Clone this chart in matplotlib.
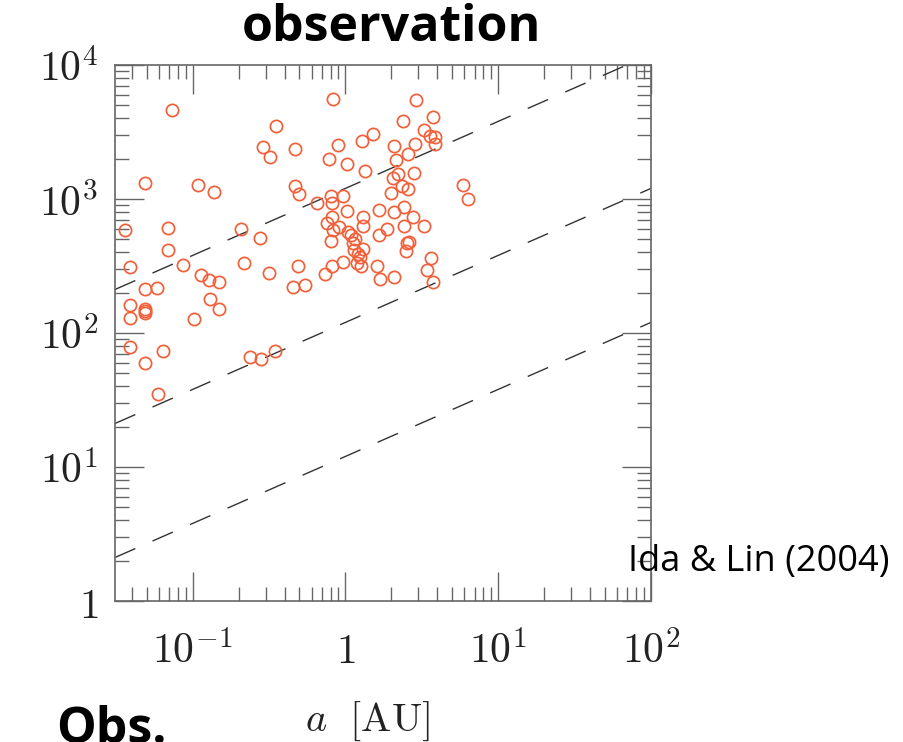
import numpy as np
import matplotlib
matplotlib.use("Agg")
import matplotlib.pyplot as plt
from matplotlib.ticker import LogLocator, FuncFormatter, NullFormatter

plt.rcParams["mathtext.fontset"] = "cm"

# semimajor axis [AU] and mass of observed planets
a_obs = [
    0.073, 0.35, 0.29, 0.32, 0.47, 0.049, 0.108, 0.138, 0.47, 0.50,
    0.036, 0.069, 0.207, 0.276, 0.069, 0.039, 0.086, 0.217, 0.316, 0.486,
    0.113, 0.128, 0.149, 0.049, 0.058, 0.456, 0.54, 0.039, 0.039, 0.049,
    0.049, 0.049, 0.129, 0.149, 0.102, 0.039, 0.064, 0.049, 0.236, 0.282,
    0.346, 0.059, 0.65, 0.83, 0.78, 0.89, 1.03, 1.28, 1.52, 1.34,
    2.07, 2.13, 2.39, 2.04, 1.98, 2.08, 0.81, 0.96, 0.82, 1.02,
    0.82, 1.31, 1.30, 1.65, 0.76, 0.91, 0.83, 1.04, 1.08, 1.15,
    1.12, 0.81, 1.31, 1.14, 1.21, 1.25, 1.19, 1.27, 1.61, 1.68,
    2.08, 1.67, 1.87, 2.88, 3.73, 3.29, 3.59, 3.88, 3.85, 2.86,
    2.57, 2.20, 2.83, 2.35, 2.56, 5.9, 6.3, 2.43, 2.75, 2.43,
    3.29, 2.62, 2.52, 2.48, 3.62, 3.40, 3.74, 0.73, 0.82, 0.97,
]
m_obs = [
    4600, 3500, 2440, 2050, 2360, 1310, 1270, 1130, 1250, 1090,
    585, 606, 600, 509, 413, 311, 324, 331, 282, 316,
    269, 249, 239, 212, 218, 220, 227, 162, 130, 150,
    145, 140, 178, 151, 127, 79, 73, 60, 66.5, 63.6,
    73, 35, 940, 5550, 2000, 2530, 1815, 2720, 3070, 1630,
    2470, 1945, 3850, 1435, 1110, 800, 1050, 1045, 940, 818,
    736, 736, 632, 825, 659, 616, 589, 570, 539, 505,
    469, 489, 424, 413, 392, 369, 331, 316, 316, 254,
    260, 536, 595, 5480, 4060, 3290, 2950, 2920, 2570, 2570,
    2170, 1540, 1550, 1260, 1180, 1280, 1000, 870, 738, 632,
    632, 474, 469, 406, 366, 294, 241, 277, 317, 339,
]

# reference lines M = c * a^(1/2)
line_coeffs = [1200, 120, 12]
line_slope = 0.5

xlim = (0.031, 100)
ylim = (1, 1e4)

fig = plt.figure(figsize=(9.04, 7.42), dpi=100)
ax = fig.add_axes([0.1272, 0.19, 0.5929, 0.7224])

a_line = np.logspace(np.log10(xlim[0]), np.log10(xlim[1]), 200)
for c in line_coeffs:
    ax.plot(a_line, c * a_line ** line_slope, color="#333333", lw=1.0,
            dashes=(16, 13.5))

ax.plot(a_obs, m_obs, linestyle="none", marker="o", ms=8.8,
        mfc="none", mec="#f2603a", mew=1.25)

ax.set_xscale("log")
ax.set_yscale("log")
ax.set_xlim(*xlim)
ax.set_ylim(*ylim)


def log_label(v, pos):
    e = int(round(np.log10(v)))
    if e == 0:
        return "$1$"
    return "$10^{%d}$" % e


for axis in (ax.xaxis, ax.yaxis):
    axis.set_major_locator(LogLocator(base=10, numticks=20))
    axis.set_minor_locator(LogLocator(base=10, subs=np.arange(2, 10), numticks=20))
    axis.set_major_formatter(FuncFormatter(log_label))
    axis.set_minor_formatter(NullFormatter())

ax.tick_params(which="both", direction="in", top=True, right=True,
               color="#666666", width=1.0, labelsize=30, labelcolor="#222222")
ax.tick_params(which="major", length=21)
ax.tick_params(which="minor", length=10)
ax.tick_params(axis="x", which="major", pad=21)
ax.tick_params(axis="y", which="major", pad=12)
for s in ax.spines.values():
    s.set_color("#666666")
    s.set_linewidth(1.2)

fig.text(367 / 904, 1 - 721 / 742, r"$a\ \ \mathrm{[AU]}$", fontsize=29,
         ha="center", va="center", color="#222222")
fig.text(391 / 904, 1 - 28 / 742, "observation", fontsize=36,
         fontweight="bold", family="Open Sans", ha="center", va="center")
fig.text(56 / 904, 1 - 705 / 742, "Obs.", fontsize=36, fontweight="bold",
         family="Open Sans", ha="left", va="top")
fig.text(628 / 904, 1 - 562 / 742, "Ida & Lin (2004)", fontsize=26,
         family="Open Sans", ha="left", va="center")

fig.savefig("out.png", dpi=100)
